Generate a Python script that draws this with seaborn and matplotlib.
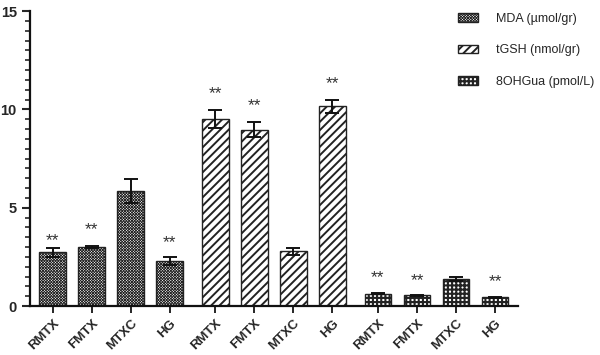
import pandas as pd
import seaborn as sns
import matplotlib.pyplot as plt
from matplotlib.patches import Patch
from matplotlib.ticker import MultipleLocator

conditions = ["RMTX", "FMTX", "MTXC", "HG"]
measures = ["MDA (µmol/gr)", "tGSH (nmol/gr)", "8OHGua (pmol/L)"]

mda = [2.73, 3.01, 5.84, 2.28]
mda_err = [0.23, 0.05, 0.60, 0.22]
tgsh = [9.51, 8.97, 2.78, 10.15]
tgsh_err = [0.46, 0.39, 0.18, 0.35]
ohgua = [0.63, 0.54, 1.37, 0.44]
ohgua_err = [0.03, 0.03, 0.12, 0.03]

# y position of the "**" marks (None = no mark)
mda_star = [3.3, 3.86, None, 3.21]
tgsh_star = [10.8, 10.2, None, 11.3]
ohgua_star = [1.42, 1.28, None, 1.25]

hatches = ["xxxxxxxxxxxx", "////", "++++"]
hatch_lw = [0.6, 1.4, 1.5]

values = [mda, tgsh, ohgua]
errors = [mda_err, tgsh_err, ohgua_err]
stars = [mda_star, tgsh_star, ohgua_star]

df = pd.DataFrame({
    "measure": [m for m in measures for _ in conditions],
    "condition": conditions * len(measures),
    "value": [v for vals in values for v in vals],
})

sns.set_style("ticks")
plt.rcParams["font.family"] = ["Liberation Sans", "DejaVu Sans"]
plt.rcParams["hatch.linewidth"] = 1.4

fig = plt.figure(figsize=(6, 3.55), dpi=100)
ax = fig.add_axes([0.05, 0.138, 0.813, 0.831])

sns.barplot(
    data=df, x="measure", y="value", hue="condition",
    order=measures, hue_order=conditions,
    width=0.96, gap=0.31, errorbar=None, legend=False,
    palette=["white"] * 4, edgecolor="#222222", linewidth=1.0, ax=ax,
)

bar_groups = list(ax.containers)
centers, labels = [], []
for j, cont in enumerate(bar_groups):
    for i, bar in enumerate(cont):
        bar.set_hatch(hatches[i])
        bar.set_facecolor("white")
        if hasattr(bar, "set_hatch_linewidth"):
            bar.set_hatch_linewidth(hatch_lw[i])
        x = bar.get_x() + bar.get_width() / 2
        centers.append(x)
        labels.append(conditions[j])
        ax.errorbar(x, values[i][j], yerr=errors[i][j], color="#111111",
                    capsize=4.7, elinewidth=1.4, capthick=1.4, zorder=5)
        if stars[i][j] is not None:
            ax.text(x, stars[i][j], "**", ha="center", va="center",
                    fontsize=12.5, color="#333333")

order = sorted(range(len(centers)), key=lambda k: centers[k])
ax.set_xticks([centers[k] for k in order], [labels[k] for k in order])
ax.set_xlim(-0.5, 2.5)
ax.set_ylim(0, 15)
ax.yaxis.set_major_locator(MultipleLocator(5))
ax.yaxis.set_minor_locator(MultipleLocator(0.5))
ax.set_xlabel("")
ax.set_ylabel("")
sns.despine(ax=ax)
for s in ["left", "bottom"]:
    ax.spines[s].set_linewidth(1.6)
    ax.spines[s].set_color("#111111")
ax.tick_params(axis="y", which="major", length=6, width=1.5, labelsize=10.5)
ax.tick_params(axis="y", which="minor", length=3.5, width=1.2)
ax.tick_params(axis="x", length=5, width=1.4, labelsize=9.5, pad=3)
for t in ax.get_xticklabels():
    t.set_rotation(45)
    t.set_ha("right")
    t.set_rotation_mode("anchor")
    t.set_fontweight("bold")
for t in ax.get_yticklabels():
    t.set_fontweight("bold")

handles = []
for h, lw, m in zip(hatches, hatch_lw, measures):
    p = Patch(facecolor="white", edgecolor="#222222", hatch=h, label=m)
    if hasattr(p, "set_hatch_linewidth"):
        p.set_hatch_linewidth(lw)
    handles.append(p)
leg = fig.legend(handles=handles, loc="upper left", bbox_to_anchor=(0.745, 0.995),
                 frameon=False, fontsize=9, labelspacing=1.55, handlelength=1.6,
                 handleheight=0.7, handletextpad=1.4)
for p, lw in zip(leg.get_patches(), hatch_lw):
    if hasattr(p, "set_hatch_linewidth"):
        p.set_hatch_linewidth(lw)

fig.savefig("out.png", dpi=100)
